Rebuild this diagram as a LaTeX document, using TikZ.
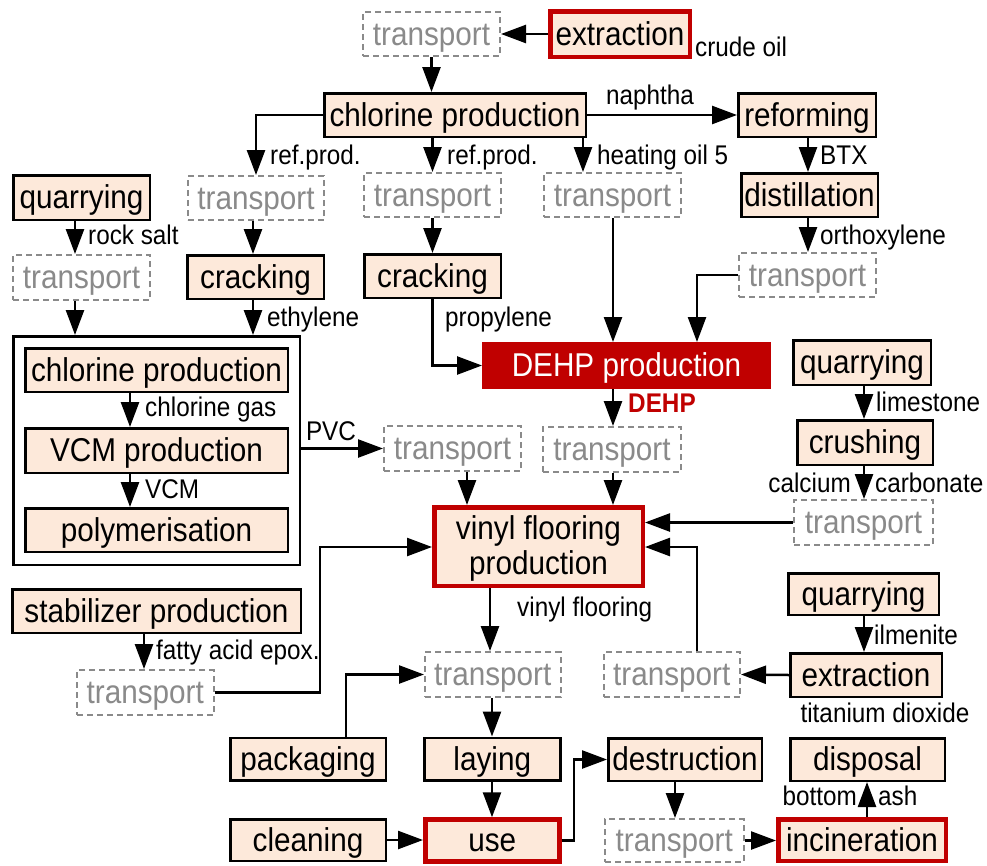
\documentclass[tikz,border=0pt]{standalone}
\usepackage{fontspec}
\setmainfont{Liberation Sans}[FakeStretch=0.9]
\usetikzlibrary{arrows.meta}
\definecolor{peach}{RGB}{253,233,218}
\definecolor{dred}{RGB}{192,0,0}
\definecolor{tgray}{RGB}{138,138,138}
\newcommand\fbig{\fontsize{33}{35}\selectfont}
\newcommand\fsmall{\fontsize{27}{29}\selectfont}
\begin{document}
\begin{tikzpicture}[x=1pt,y=-1pt,
  box/.style={draw=black, line width=2.5pt, fill=peach, inner sep=0pt, font=\fbig, text height=26pt, text depth=4pt},
  redbox/.style={box, draw=dred, line width=4.5pt},
  tbox/.style={draw=tgray, line width=2pt, dash pattern=on 6pt off 4pt, text=tgray, fill=white, inner sep=0pt, font=\fbig, text height=26pt, text depth=4pt},
  lab/.style={inner sep=0pt, font=\fsmall, text height=19pt, text depth=6pt, anchor=west},
  conn/.style={line width=2.5pt, -{Triangle[length=25pt,width=18pt]}}]
\useasboundingbox (0,0) rectangle (987,865);

% columns / rows
\coordinate (xA) at (583,0);
\coordinate (xB) at (75,0);
\coordinate (xC) at (253,0);
\coordinate (xD) at (130,0);
\coordinate (xE) at (467,0);
\coordinate (xF) at (613,0);
\coordinate (xG) at (864,0);
\coordinate (xH) at (697,0);
\coordinate (xI) at (144,0);
\coordinate (xJ) at (490,0);
\coordinate (xJb) at (492,0);
\coordinate (xK) at (346,0);
\coordinate (xL) at (675,0);
\coordinate (xM) at (867,0);
\coordinate (xN) at (808,0);
\coordinate (xP) at (320,0);
\coordinate (xQ) at (574,0);
\coordinate (yR) at (0,547);

% big group box
\node[draw=black, line width=2.5pt, minimum width=286.5, minimum height=228.5, inner sep=0pt] (big) at (156.5,450.5) {};

% nodes
\node[tbox, minimum width=137, minimum height=44] (tr1) at (431.5,34) {transport};
\node[redbox, minimum width=139.5, minimum height=45.5] (ext1) at (620,34) {extraction};
\node[box, minimum width=261.5, minimum height=43.5] (chl1) at (455,115) {chlorine production};
\node[box, minimum width=137.5, minimum height=43.5] (ref) at (807,115) {reforming};
\node[tbox, minimum width=136, minimum height=44] (tr2) at (256,198) {transport};
\node[tbox, minimum width=137, minimum height=44] (tr3) at (432.5,195) {transport};
\node[tbox, minimum width=137, minimum height=44] (tr4) at (612.5,195) {transport};
\node[box, minimum width=136.5, minimum height=43.5] (dist) at (809.5,195) {distillation};
\node[box, minimum width=136.5, minimum height=44.5] (q1) at (81.5,197.5) {quarrying};
\node[tbox, minimum width=137, minimum height=45] (tr5) at (81.5,277.5) {transport};
\node[box, minimum width=136.5, minimum height=43.5] (crack1) at (255.5,277) {cracking};
\node[box, minimum width=136.5, minimum height=43.5] (crack2) at (432.5,276) {cracking};
\node[tbox, minimum width=137, minimum height=44] (tr6) at (807.5,275) {transport};
\node[box, minimum width=262.5, minimum height=43.5] (chl2) at (156.5,370) {chlorine production};
\node[box, minimum width=262.5, minimum height=44.5] (vcm) at (156.5,450.5) {VCM production};
\node[box, minimum width=262.5, minimum height=43.5] (poly) at (156.5,530) {polymerisation};
\node[box, fill=dred, draw=dred, line width=1pt, text=white, minimum width=288, minimum height=46] (dehp) at (626.5,365.5) {DEHP production};
\node[box, minimum width=137.5, minimum height=44.5] (q2) at (862,362.5) {quarrying};
\node[box, minimum width=135.5, minimum height=44.5] (crush) at (865,442.5) {crushing};
\node[tbox, minimum width=137, minimum height=45] (tr7) at (452.5,448.5) {transport};
\node[tbox, minimum width=138, minimum height=45] (tr8) at (612,449.5) {transport};
\node[tbox, minimum width=139, minimum height=45] (tr9) at (863.5,522.5) {transport};
\node[redbox, align=center, text height=, text depth=, minimum width=208.5, minimum height=78.5] (vin) at (538.5,546.5) {\rule{0pt}{28pt}vinyl flooring\\production};
\node[box, minimum width=288.5, minimum height=43.5] (stab) at (156.5,611) {stabilizer production};
\node[tbox, minimum width=136.5, minimum height=45] (tr10) at (145.25,692.5) {transport};
\node[tbox, minimum width=135.5, minimum height=45] (tr11) at (492.75,674.5) {transport};
\node[tbox, minimum width=136.5, minimum height=45] (tr12) at (671.75,674.5) {transport};
\node[box, minimum width=150.5, minimum height=41.5] (q3) at (863.5,594) {quarrying};
\node[box, minimum width=151.5, minimum height=43.5] (ext2) at (866,675) {extraction};
\node[box, minimum width=155.5, minimum height=42.5] (pack) at (308,759) {packaging};
\node[box, minimum width=136, minimum height=42.5] (lay) at (492.25,759) {laying};
\node[box, minimum width=155.5, minimum height=41.5] (clean) at (308,840) {cleaning};
\node[redbox, minimum width=134, minimum height=42] (use) at (492.25,840.5) {use};
\node[box, minimum width=153.5, minimum height=42.5] (dest) at (685,759.5) {destruction};
\node[tbox, minimum width=138.5, minimum height=43] (tr13) at (674.25,840.5) {transport};
\node[redbox, minimum width=167.5, minimum height=41.5] (inc) at (862,840) {incineration};
\node[box, minimum width=154.5, minimum height=42.5] (disp) at (867.5,759.5) {disposal};

% labels
\node[lab] (l1) at (695,50) {crude oil};
\node[lab, anchor=center] (l2) at (650,98) {naphtha};
\node[lab] (l3) at (270,158) {ref.prod.};
\node[lab] (l4) at (447,158) {ref.prod.};
\node[lab] (l5) at (597,158) {heating oil 5};
\node[lab] (l6) at (820,158) {BTX};
\node[lab] (l7) at (820,238) {orthoxylene};
\node[lab] (l8) at (88,238) {rock salt};
\node[lab] (l9) at (267,320) {ethylene};
\node[lab] (l10) at (445,320) {propylene};
\node[lab] (l11) at (145,410) {chlorine gas};
\node[lab] (l12) at (145,492) {VCM};
\node[lab, anchor=center] (l13) at (331,434) {PVC};
\node[lab, font=\fsmall\bfseries, text=dred] (l14) at (628,406) {DEHP};
\node[lab] (l15) at (876,405) {limestone};
\node[lab, anchor=east] (l16) at (851,486) {calcium};
\node[lab] (l17) at (875,486) {carbonate};
\node[lab] (l18) at (874,638) {ilmenite};
\node[lab, anchor=center] (l19) at (885,716) {titanium dioxide};
\node[lab] (l20) at (156,653) {fatty acid epox.};
\node[lab] (l21) at (517,610) {vinyl flooring};
\node[lab, anchor=east] (l22) at (857,799) {bottom};
\node[lab] (l23) at (878,799) {ash};

% connectors
\draw[conn] (ext1) -- (tr1);
\draw[conn] (tr1.south) -- (tr1.south |- chl1.north);
\draw[conn] (chl1.east) -- (ref.west);
\draw[conn] (chl1.west) -| (tr2.north);
\draw[conn] (chl1.south -| tr3.north) -- (tr3.north);
\draw[conn] (chl1.south -| xA) -- (tr4.north -| xA);
\draw[conn] (ref.south -| xN) -- (dist.north -| xN);
\draw[conn] (dist.south -| xN) -- (tr6.north -| xN);
\draw[conn] (tr6.west) -| (dehp.north -| xH);
\draw[conn] (tr4.south -| xF) -- (dehp.north -| xF);
\draw[conn] (q1.south -| xB) -- (tr5.north -| xB);
\draw[conn] (tr5.south -| xB) -- (big.north -| xB);
\draw[conn] (tr2.south -| xC) -- (crack1.north -| xC);
\draw[conn] (crack1.south -| xC) -- (big.north -| xC);
\draw[conn] (tr3) -- (crack2);
\draw[conn] (crack2.south) |- (dehp.west);
\draw[conn] (chl2.south -| xD) -- (vcm.north -| xD);
\draw[conn] (vcm.south -| xD) -- (poly.north -| xD);
\draw[conn] (big.east |- tr7.west) -- (tr7.west);
\draw[conn] (tr7.south -| xE) -- (vin.north -| xE);
\draw[conn] (dehp.south -| xF) -- (tr8.north -| xF);
\draw[conn] (tr8.south -| xF) -- (vin.north -| xF);
\draw[conn] (q2.south -| xG) -- (crush.north -| xG);
\draw[conn] (crush.south -| xG) -- (tr9.north -| xG);
\draw[conn] (tr9.west) -- (vin.east |- tr9.west);
\draw[conn] (tr12.north -| xH) |- (vin.east |- yR);
\draw[conn] (q3.south -| xG) -- (ext2.north -| xG);
\draw[conn] (ext2.west) -- (tr12.east);
\draw[conn] (stab.south -| xI) -- (tr10.north -| xI);
\draw[conn] (tr10.east) -| (yR -| xP) -- (vin.west |- yR);
\draw[conn] (vin.south -| xJ) -- (tr11.north -| xJ);
\draw[conn] (pack.north -| xK) |- (tr11.west);
\draw[conn] (tr11.south -| xJb) -- (lay.north -| xJb);
\draw[conn] (lay.south -| xJb) -- (use.north -| xJb);
\draw[conn] (clean.east) -- (use.west |- clean.east);
\draw[conn] (use.east) -- (use.east -| xQ) |- (dest.west);
\draw[conn] (dest.south -| xL) -- (tr13.north -| xL);
\draw[conn] (tr13.east) -- (inc.west |- tr13.east);
\draw[conn] (inc.north -| xM) -- (disp.south -| xM);
\end{tikzpicture}
\end{document}
